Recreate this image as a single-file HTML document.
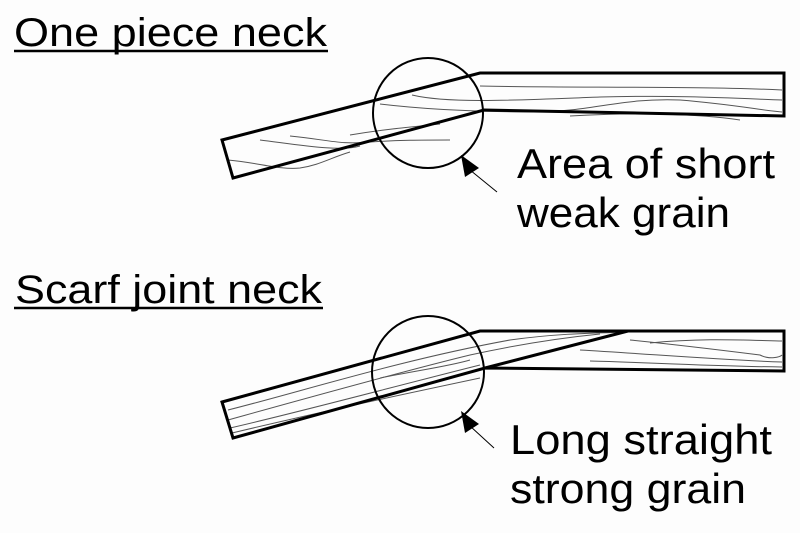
<!DOCTYPE html>
<html><head><style>
html,body{margin:0;padding:0;background:#fdfdfd;}
svg{display:block}
text{font-family:"Liberation Sans",sans-serif;fill:#000;}
</style></head><body>
<svg width="800" height="533" viewBox="0 0 800 533">
<rect width="800" height="533" fill="#fdfdfd"/>
<text x="14" y="46" font-size="40" textLength="313" lengthAdjust="spacingAndGlyphs">One piece neck</text>
<line x1="14" y1="51" x2="328" y2="51" stroke="#000" stroke-width="2.5"/>
<text x="15" y="303" font-size="40" textLength="307" lengthAdjust="spacingAndGlyphs">Scarf joint neck</text>
<line x1="14" y1="308" x2="323" y2="308" stroke="#000" stroke-width="2.5"/>

<g fill="none" stroke="#555" stroke-width="1">
<path d="M480 86 C560 88 700 86 782 90"/>
<path d="M412 95 C450 104 520 100 600 97 C680 95 730 98 782 100"/>
<path d="M380 104 C430 110 480 112 540 112 C600 110 620 98 680 100 C730 104 760 110 782 112"/>
<path d="M570 116 C640 112 700 114 740 120"/>
<path d="M290 136 C330 140 340 145 370 142 C400 140 420 140 450 140"/>
<path d="M260 140 C300 145 340 152 360 146"/>
<path d="M228 160 C260 163 280 170 300 168 C320 165 330 158 350 152"/>
<path d="M350 135 C380 130 400 128 440 124"/>
</g>
<g fill="none" stroke="#000" stroke-width="3">
<path d="M222 140 L480 73 L784 73 L784 116 L484 110 L233 178 Z"/>
</g>
<circle cx="428" cy="113" r="55" fill="none" stroke="#000" stroke-width="2"/>
<polygon points="461,155 479,168 465,177" fill="#000"/>
<line x1="470" y1="170" x2="497" y2="192" stroke="#000" stroke-width="1"/>
<text x="517" y="178" font-size="42" textLength="258" lengthAdjust="spacingAndGlyphs">Area of short</text>
<text x="517" y="227" font-size="42" textLength="213" lengthAdjust="spacingAndGlyphs">weak grain</text>

<g fill="none" stroke="#555" stroke-width="1">
<path d="M228 410 C300 392 400 360 510 340 C560 333 600 333 628 332"/>
<path d="M228 420 C300 400 400 372 470 355 C520 344 560 338 600 334"/>
<path d="M230 428 C300 412 400 385 480 365"/>
<path d="M232 433 C320 412 400 395 480 378"/>
<path d="M380 378 C420 370 450 366 470 360"/>
<path d="M630 340 C680 345 720 350 760 355 C770 360 780 357 782 355"/>
<path d="M580 350 C650 354 720 360 782 362"/>
<path d="M650 343 C700 338 740 340 782 341"/>
<path d="M590 361 C640 362 700 366 782 367"/>
</g>
<g fill="none" stroke="#000" stroke-width="3">
<path d="M222 402 L480 331 L784 331 L784 371 L485 368 L233 438 Z"/>
<line x1="485" y1="368" x2="628" y2="331"/>
</g>
<circle cx="428" cy="372" r="56" fill="none" stroke="#000" stroke-width="2"/>
<polygon points="461,411 479,424 465,433" fill="#000"/>
<line x1="470" y1="426" x2="494" y2="448" stroke="#000" stroke-width="1"/>
<text x="510" y="454" font-size="42" textLength="262" lengthAdjust="spacingAndGlyphs">Long straight</text>
<text x="510" y="503" font-size="42" textLength="236" lengthAdjust="spacingAndGlyphs">strong grain</text>
</svg>
</body></html>
